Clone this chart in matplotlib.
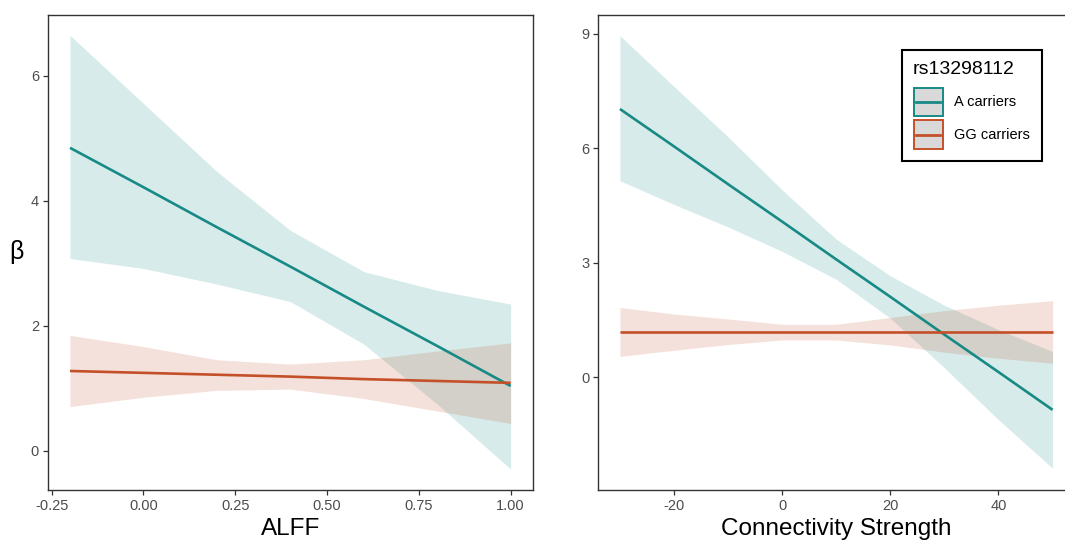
import matplotlib
matplotlib.use("Agg")
import matplotlib.pyplot as plt
from matplotlib.legend_handler import HandlerBase
from matplotlib.patches import Rectangle
from matplotlib.lines import Line2D

plt.rcParams['font.family'] = ['Liberation Sans', 'DejaVu Sans']
plt.rcParams['axes.unicode_minus'] = False

# ---- data: ALFF panel ----
alff_x = [-0.2, 0.0, 0.2, 0.4, 0.6, 0.8, 1.0]
alff_a_fit = [4.85, 4.22, 3.58, 2.95, 2.31, 1.68, 1.04]
alff_a_hi = [6.65, 5.56, 4.47, 3.53, 2.87, 2.57, 2.35]
alff_a_lo = [3.08, 2.92, 2.67, 2.39, 1.71, 0.75, -0.29]
alff_g_fit = [1.28, 1.25, 1.22, 1.19, 1.15, 1.12, 1.09]
alff_g_hi = [1.85, 1.67, 1.46, 1.39, 1.46, 1.60, 1.73]
alff_g_lo = [0.71, 0.86, 0.97, 0.99, 0.84, 0.64, 0.44]

# ---- data: Connectivity panel ----
conn_x = [-30, -20, -10, 0, 10, 20, 30, 40, 50]
conn_a_fit = [7.03, 6.05, 5.06, 4.08, 3.09, 2.11, 1.12, 0.14, -0.85]
conn_a_hi = [8.95, 7.62, 6.30, 4.91, 3.62, 2.66, 1.89, 1.25, 0.68]
conn_a_lo = [5.15, 4.53, 3.94, 3.30, 2.57, 1.55, 0.25, -1.11, -2.38]
conn_g_fit = [1.18, 1.18, 1.18, 1.18, 1.18, 1.18, 1.18, 1.18, 1.18]
conn_g_hi = [1.83, 1.66, 1.53, 1.39, 1.39, 1.57, 1.75, 1.89, 2.01]
conn_g_lo = [0.55, 0.71, 0.86, 0.98, 0.98, 0.85, 0.66, 0.50, 0.37]

alff_ticks = [-0.25, 0.0, 0.25, 0.5, 0.75, 1.0]
alff_ticklabels = ["-0.25", "0.00", "0.25", "0.50", "0.75", "1.00"]
alff_yticks = [0, 2, 4, 6]
conn_ticks = [-20, 0, 20, 40]
conn_yticks = [0, 3, 6, 9]

group_names = ["A carriers", "GG carriers"]
legend_title = "rs13298112"

TEAL = "#178a86"
ORANGE = "#c4502a"
ALPHA = 0.17

W, H = 1065, 544
fig = plt.figure(figsize=(W / 100, H / 100), dpi=100)


def px_axes(x0, x1, y0, y1):
    return fig.add_axes([x0 / W, 1 - y1 / H, (x1 - x0) / W, (y1 - y0) / H])


ax1 = px_axes(48, 532.7, 14.7, 490)
ax2 = px_axes(598.3, 1074.2, 14.7, 490)


def style(ax):
    for s in ax.spines.values():
        s.set_color("#333333")
        s.set_linewidth(1.0)
    ax.tick_params(axis="both", colors="#333333", length=3.5, width=0.9,
                   labelsize=10.5, labelcolor="#4d4d4d", pad=3)


# left panel
ax1.fill_between(alff_x, alff_a_lo, alff_a_hi, color=TEAL, alpha=ALPHA, lw=0)
ax1.fill_between(alff_x, alff_g_lo, alff_g_hi, color=ORANGE, alpha=ALPHA, lw=0)
ax1.plot(alff_x, alff_a_fit, color=TEAL, lw=1.9, solid_capstyle="butt")
ax1.plot(alff_x, alff_g_fit, color=ORANGE, lw=1.9, solid_capstyle="butt")
ax1.set_xlim(-0.26, 1.06)
ax1.set_ylim(-0.624, 6.98)
ax1.set_xticks(alff_ticks)
ax1.set_xticklabels(alff_ticklabels)
ax1.set_yticks(alff_yticks)
style(ax1)
ax1.set_xlabel("ALFF", fontsize=17.5, labelpad=3.5)
ax1.set_ylabel("β", fontsize=18, rotation=0, labelpad=10, va="center")

# right panel
ax2.fill_between(conn_x, conn_a_lo, conn_a_hi, color=TEAL, alpha=ALPHA, lw=0)
ax2.fill_between(conn_x, conn_g_lo, conn_g_hi, color=ORANGE, alpha=ALPHA, lw=0)
la, = ax2.plot(conn_x, conn_a_fit, color=TEAL, lw=1.9, solid_capstyle="butt")
lg, = ax2.plot(conn_x, conn_g_fit, color=ORANGE, lw=1.9, solid_capstyle="butt")
ax2.set_xlim(-34, 54)
ax2.set_ylim(-2.95, 9.50)
ax2.set_xticks(conn_ticks)
ax2.set_yticks(conn_yticks)
style(ax2)
ax2.set_xlabel("Connectivity Strength", fontsize=17.5, labelpad=3.5)


class BoxLineHandler(HandlerBase):
    def create_artists(self, legend, orig_handle, xdescent, ydescent,
                       width, height, fontsize, trans):
        c = orig_handle.get_color()
        rect = Rectangle((-xdescent + 0.7, -ydescent + 0.7), width - 1.4,
                         height - 1.4, facecolor="#d9d9d9", edgecolor=c,
                         lw=1.4, transform=trans)
        line = Line2D([-xdescent + width * 0.1, -xdescent + width * 0.9],
                      [-ydescent + height / 2] * 2, color=c, lw=2.0,
                      transform=trans)
        return [rect, line]


h = BoxLineHandler()
leg = ax2.legend([la, lg], group_names, title=legend_title,
                 handler_map={la: h, lg: h},
                 loc="upper right", bbox_to_anchor=(0.9317, 0.9257),
                 borderaxespad=0, fancybox=False, framealpha=1,
                 edgecolor="black", fontsize=10.5, title_fontsize=14,
                 handlelength=2.1, handleheight=2.85, labelspacing=0.14,
                 handletextpad=0.75, borderpad=0.78, alignment="left")
leg.get_frame().set_linewidth(1.5)
leg._legend_box.sep = 6

fig.savefig("out.png", dpi=100)
